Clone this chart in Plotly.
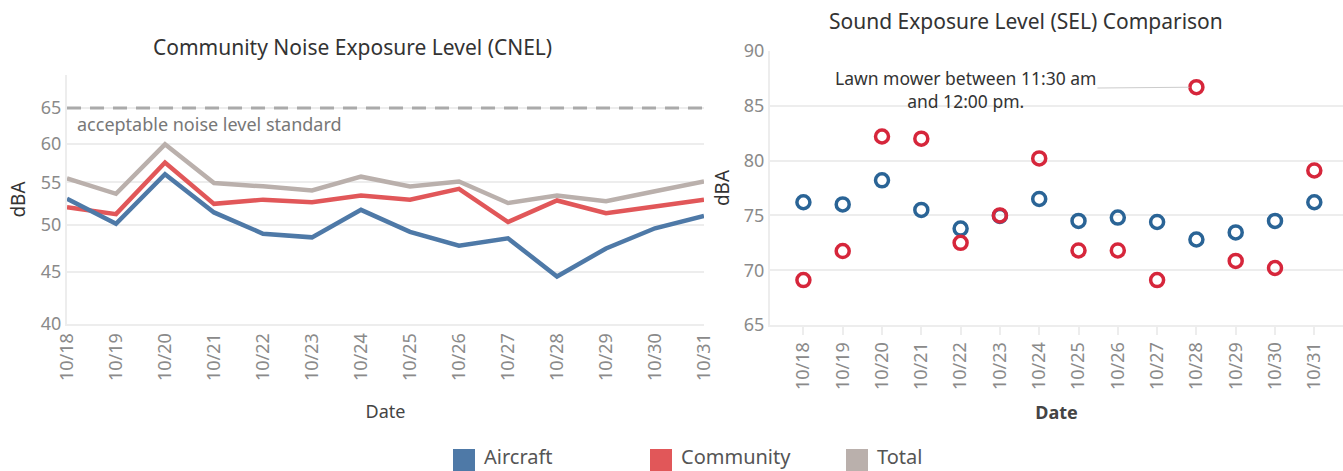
import math
import plotly.graph_objects as go

# ---------------- data ----------------
dates = ["10/18", "10/19", "10/20", "10/21", "10/22", "10/23", "10/24",
         "10/25", "10/26", "10/27", "10/28", "10/29", "10/30", "10/31"]

cnel_aircraft = [53.0, 50.1, 56.0, 51.4, 49.0, 48.6, 51.7, 49.2, 47.7, 48.5, 44.5, 47.4, 49.6, 51.0]
cnel_community = [52.0, 51.2, 57.5, 52.4, 52.9, 52.6, 53.4, 52.9, 54.2, 50.3, 52.8, 51.3, 52.1, 52.9]
cnel_total = [55.5, 53.6, 59.9, 54.9, 54.5, 54.0, 55.7, 54.5, 55.1, 52.5, 53.4, 52.7, 53.9, 55.1]

sel_aircraft = [76.2, 76.0, 78.2, 75.5, 73.8, 74.95, 76.5, 74.5, 74.8, 74.4, 72.8, 73.45, 74.5, 76.2]
sel_community = [69.1, 71.75, 82.2, 82.0, 72.5, 75.0, 80.2, 71.8, 71.8, 69.1, 86.7, 70.85, 70.2, 79.1]

standard_level = 65
standard_label = "acceptable noise level standard"
lawn_note = "Lawn mower between 11:30 am<br>and 12:00 pm."
lawn_date = "10/28"

series_names = ["Aircraft", "Community", "Total"]
cnel_ticks = [40, 45, 50, 55, 60, 65]
cnel_range = [40, 70]
sel_range = [65, 90]

# ---------------- styling ----------------
W, H = 1343, 471
FONT = "Noto Sans"
C_AIR = "#4e79a7"
C_COM = "#e15759"
C_TOT = "#bab0ac"
C_AIR_SEL = "#2a6496"
C_COM_SEL = "#d6263b"
GRID = "#ededed"
TICK = "#8a8a8a"
TXT = "#333333"


def px(v, total):
    return v / total


fig = go.Figure()

# ---- left chart: CNEL lines (log scale axis) ----
fig.add_trace(go.Scatter(x=dates, y=[standard_level] * len(dates), mode="lines",
                         line=dict(color="#aaaaaa", width=3, dash="14px,9px"),
                         xaxis="x", yaxis="y", showlegend=False, hoverinfo="skip"))
for vals, col, name in [(cnel_total, C_TOT, "Total"),
                        (cnel_community, C_COM, "Community"),
                        (cnel_aircraft, C_AIR, "Aircraft")]:
    fig.add_trace(go.Scatter(x=dates, y=vals, mode="lines", name=name,
                             line=dict(color=col, width=4.5),
                             xaxis="x", yaxis="y", showlegend=False))

# ---- right chart: SEL circles ----
for vals, col, name in [(sel_aircraft, C_AIR_SEL, "Aircraft"),
                        (sel_community, C_COM_SEL, "Community")]:
    fig.add_trace(go.Scatter(x=dates, y=vals, mode="markers", name=name,
                             marker=dict(symbol="circle-open", size=13, color=col,
                                         line=dict(width=3.5, color=col)),
                             xaxis="x2", yaxis="y2", showlegend=False))

# domains (from pixel layout)
xd1 = [px(67, W), px(704, W)]
yd1 = [1 - px(324, H), 1 - px(75, H)]
xd2 = [px(770, W), 1.0]
yd2 = [1 - px(325, H), 1 - px(51, H)]

fig.update_layout(
    width=W, height=H,
    margin=dict(l=0, r=0, t=0, b=0, autoexpand=False),
    paper_bgcolor="white", plot_bgcolor="white",
    font=dict(family=FONT, color=TXT),
    xaxis=dict(domain=xd1, anchor="y", type="category", range=[0, 13],
               automargin=False,
               showgrid=False, tickangle=-90, ticks="",
               tickfont=dict(family=FONT, size=18, color=TICK),
               title=dict(text="Date", font=dict(family=FONT, size=18, color="#444"), standoff=25),
               showline=True, linecolor=GRID, linewidth=2, zeroline=False),
    yaxis=dict(domain=yd1, anchor="x", type="log",
               range=[math.log10(cnel_range[0]), math.log10(cnel_range[1])],
               automargin=False,
               tickmode="array", tickvals=cnel_ticks, ticktext=[str(t) for t in cnel_ticks],
               showgrid=True, gridcolor=GRID, gridwidth=2,
               title=dict(text="dBA", font=dict(family=FONT, size=19, color=TXT), standoff=10),
               showline=True, linecolor=GRID, linewidth=2,
               zeroline=False, tickfont=dict(family=FONT, size=18, color=TICK)),
    xaxis2=dict(domain=xd2, anchor="y2", type="category", range=[-0.85, 13.73],
                automargin=False,
                showgrid=False, tickangle=-90, ticks="outside", ticklen=8,
                tickcolor=GRID, tickwidth=2,
                tickfont=dict(family=FONT, size=18, color=TICK),
                title=dict(text="<b>Date</b>", font=dict(family=FONT, size=18, color="#444"), standoff=17),
                showline=True, linecolor=GRID, linewidth=2, zeroline=False),
    yaxis2=dict(domain=yd2, anchor="x2", range=sel_range, dtick=5, automargin=False,
                showgrid=True, gridcolor=GRID, gridwidth=2,
                title=dict(text="dBA", font=dict(family=FONT, size=19, color=TXT), standoff=9),
                showline=True, linecolor=GRID, linewidth=2, zeroline=False,
                tickfont=dict(family=FONT, size=18, color=TICK)),
    showlegend=False,
)

annotations = [
    dict(text="Community Noise Exposure Level (CNEL)", xref="paper", yref="paper",
         x=px(352, W), y=1 - px(47, H), showarrow=False, xanchor="center", yanchor="middle",
         font=dict(family=FONT, size=21, color=TXT)),
    dict(text="Sound Exposure Level (SEL) Comparison", xref="paper", yref="paper",
         x=px(1026, W), y=1 - px(21, H), showarrow=False, xanchor="center", yanchor="middle",
         font=dict(family=FONT, size=21, color=TXT)),
    dict(text=standard_label, xref="paper", yref="paper",
         x=px(75, W), y=1 - px(124, H), showarrow=False, xanchor="left", yanchor="middle",
         font=dict(family=FONT, size=18, color="#777777")),
    dict(text=lawn_note, xref="x2", yref="y2", x=lawn_date,
         y=sel_community[dates.index(lawn_date)],
         ax=-231, ay=2, showarrow=True, arrowhead=0, arrowwidth=1, arrowcolor="#cccccc",
         standoff=7, align="center",
         font=dict(family=FONT, size=17.5, color=TXT)),
]

# legend (manual, Tableau-style squares)
legend_pos = [(453, C_AIR), (650, C_COM), (846, C_TOT)]
shapes = []
for (x0, col), name in zip(legend_pos, series_names):
    shapes.append(dict(type="rect", xref="paper", yref="paper",
                       x0=px(x0, W), x1=px(x0 + 22, W),
                       y0=1 - px(471, H), y1=1 - px(449, H),
                       fillcolor=col, line=dict(width=0)))
    annotations.append(dict(text=name, xref="paper", yref="paper",
                            x=px(x0 + 29, W), y=1 - px(456, H),
                            showarrow=False, xanchor="left", yanchor="middle",
                            font=dict(family=FONT, size=20, color="#555555")))

fig.update_layout(annotations=annotations, shapes=shapes)

fig.write_html("out.html", config={"displayModeBar": False},
               post_script="document.body.style.margin='0px';")
